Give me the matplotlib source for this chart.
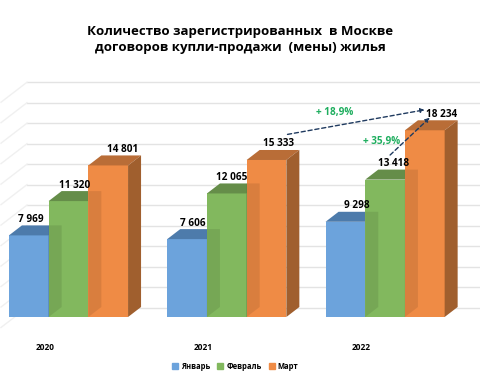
import matplotlib
matplotlib.use('Agg')
import matplotlib.pyplot as plt
from matplotlib.patches import Patch

### Data ###
years = ['2020', '2021', '2022']
months = ['Январь', 'Февраль', 'Март']
january = [7969, 7606, 9298]
february = [11320, 12065, 13418]
march = [14801, 15333, 18234]
grid_values = list(range(0, 22001, 2000))

### Styles ###
front_colors = ['#6CA3DC', '#82B85E', '#EF8B45']
top_colors = ['#4D7BAB', '#658D49', '#B96D37']
side_colors = ['#4D7BAB', '#658D49', '#A05F2E']
label_shift = [[2, 6, 11], [6, 5, 8], [14, 12, 17]]

### Pixel scale of the picture ###
px_x = 158.3
px_y = 0.01024
dx = 13 / px_x
dy = 10 / px_y
width = 39.7 / px_x

plt.rcParams['font.family'] = ['Open Sans', 'DejaVu Sans']

fig = plt.figure(figsize=(4.8, 3.79), dpi=100)
ax = fig.add_axes([0, 0, 1, 1])
ax.set_xlim(-68.5 / px_x, (480 - 68.5) / px_x)
ax.set_ylim(-62 / px_y, 317 / px_y)
ax.axis('off')

### Back wall and left wall ###
wall_x = ax.get_xlim()[0] + 27 / px_x
for g in grid_values:
    ax.plot([wall_x, ax.get_xlim()[1]], [g + dy * 0.95, g + dy * 0.95], color='#E3E3E3', lw=1, zorder=1)
    ax.plot([wall_x - 2 * dx, wall_x], [g - dy * 1.05, g + dy * 0.95], color='#F0F0F0', lw=1, zorder=1)

series = [january, february, march]
for i, year in enumerate(years):
    ax.text(i - 23.7 / px_x, -30 / px_y, year, ha='center', va='center', fontsize=6, fontweight='bold')
    for j, values in enumerate(series):
        v = values[i]
        left = i + (j - 1.5) * width
        right = left + width
        z = 2 + j * 2
        ax.bar(left, v, width, align='edge', color=front_colors[j], zorder=z)
        ax.fill([left, left + dx, right + dx, right], [v, v + dy, v + dy, v], color=top_colors[j], lw=0, zorder=z)
        ax.fill([right, right + dx, right + dx, right], [0, dy, v + dy, v], color=side_colors[j], lw=0, zorder=z)
        ### The previous bar shows through the front of this one ###
        if j > 0:
            pv = series[j - 1][i]
            ax.fill([left, left + dx, left + dx, left], [0, dy, pv + dy, pv + dy], color='black', alpha=0.09, lw=0, zorder=z + 1)
        ax.annotate(f'{v:,}'.replace(',', ' '), (i + (j - 1) * width, v),
                    xytext=(label_shift[j][i] * 0.72, 16 * 0.72), textcoords='offset points',
                    ha='center', va='center', fontsize=7.2, fontweight='bold', zorder=20)

### Growth arrows, from the 2021 March and 2022 February bars to 2022 March ###
arrow = dict(arrowstyle='-|>', color='#1F3A5F', lw=1, linestyle=(0, (3, 2)), mutation_scale=6, shrinkA=0, shrinkB=0)
ax.annotate('', xy=(2 + width + 0 / px_x, march[2] + 2000), xytext=(1 + width + 21 / px_x, march[1] + 2500), arrowprops=arrow, zorder=21)
ax.annotate('', xy=(2 + width + 5 / px_x, march[2] + 1230), xytext=(2 + 5 / px_x, february[2] + 2400), arrowprops=arrow, zorder=21)
ax.text(1 + width + 68 / px_x, march[1] + 4600, '+ 18,9%', color='#1FAE5F', fontsize=7.2, fontweight='bold', ha='center', va='center', zorder=21)
ax.text(2 - 4 / px_x, february[2] + 3700, '+ 35,9%', color='#1FAE5F', fontsize=7.2, fontweight='bold', ha='center', va='center', zorder=21)

handles = [Patch(color=c, label=m) for c, m in zip(front_colors, months)]
ax.legend(handles=handles, ncol=3, frameon=False, loc='center', bbox_to_anchor=(0.49, 0.034),
          prop={'size': 5.5, 'weight': 'bold'}, handlelength=0.8, handleheight=0.8,
          handletextpad=0.4, columnspacing=0.9)

fig.text(0.5, 0.896, 'Количество зарегистрированных  в Москве\nдоговоров купли-продажи  (мены) жилья',
         ha='center', va='center', fontsize=9.5, fontweight='bold', linespacing=1.35)

fig.savefig('out.png', dpi=100)
